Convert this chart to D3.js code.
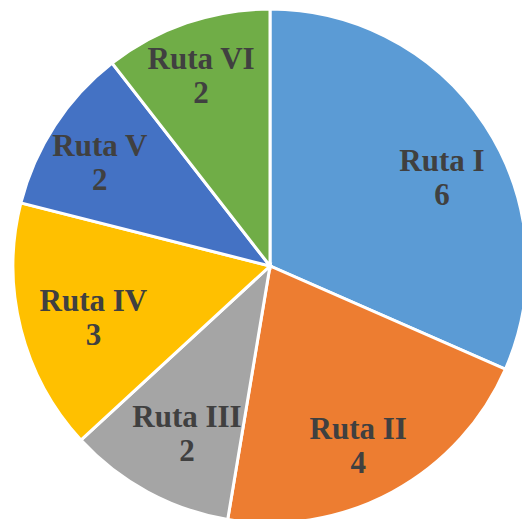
<!DOCTYPE html>
<html>
<head>
<meta charset="utf-8">
<script src="https://cdn.jsdelivr.net/npm/d3@7"></script>
<style>
  body { margin: 0; background: #fff; }
  svg { display: block; }
</style>
</head>
<body>
<svg width="522" height="519"></svg>
<script>
// rutas y cantidades
const rutas = ["Ruta I", "Ruta II", "Ruta III", "Ruta IV", "Ruta V", "Ruta VI"];
const valores = [6, 4, 2, 3, 2, 2];
const colores = ["#5B9BD5", "#ED7D31", "#A5A5A5", "#FFC000", "#4472C4", "#70AD47"];

// ajuste de etiquetas (grados respecto al centro del sector, radio en px)
const giroEtiqueta = [5, 1.8, -1.6, -1, -1, -0.6];
const radioEtiqueta = [195, 197, 184, 183, 201, 206];

const svg = d3.select("svg");
const cx = 270, cy = 266, R = 257;

const datos = rutas.map((r, i) => ({ruta: r, valor: valores[i]}));

const pie = d3.pie()
    .sort(null)
    .value(d => d.valor);

const arc = d3.arc().innerRadius(0).outerRadius(R);

const g = svg.append("g").attr("transform", `translate(${cx},${cy})`);
const color = d3.scaleOrdinal().domain(rutas).range(colores);

g.selectAll("path")
    .data(pie(datos))
    .join("path")
    .attr("d", arc)
    .attr("fill", d => color(d.data.ruta))
    .attr("stroke", "#fff")
    .attr("stroke-width", 3);

// posición de la etiqueta en el sector
function posEtiqueta(d, i) {
    const a = (d.startAngle + d.endAngle) / 2 + giroEtiqueta[i] * Math.PI / 180;
    const r = radioEtiqueta[i];
    return [r * Math.sin(a), -r * Math.cos(a)];
}

const etiquetas = g.selectAll("text")
    .data(pie(datos))
    .join("text")
    .attr("transform", (d, i) => `translate(${posEtiqueta(d, i)})`)
    .attr("text-anchor", "middle")
    .attr("font-family", "'Liberation Serif', 'Times New Roman', serif")
    .attr("font-weight", "bold")
    .attr("font-size", 31)
    .attr("fill", "#404040");

etiquetas.append("tspan")
    .attr("x", 0)
    .attr("dy", "-0.1em")
    .text(d => d.data.ruta);

etiquetas.append("tspan")
    .attr("x", 0)
    .attr("dy", "1.1em")
    .text(d => d.data.valor);
</script>
</body>
</html>
